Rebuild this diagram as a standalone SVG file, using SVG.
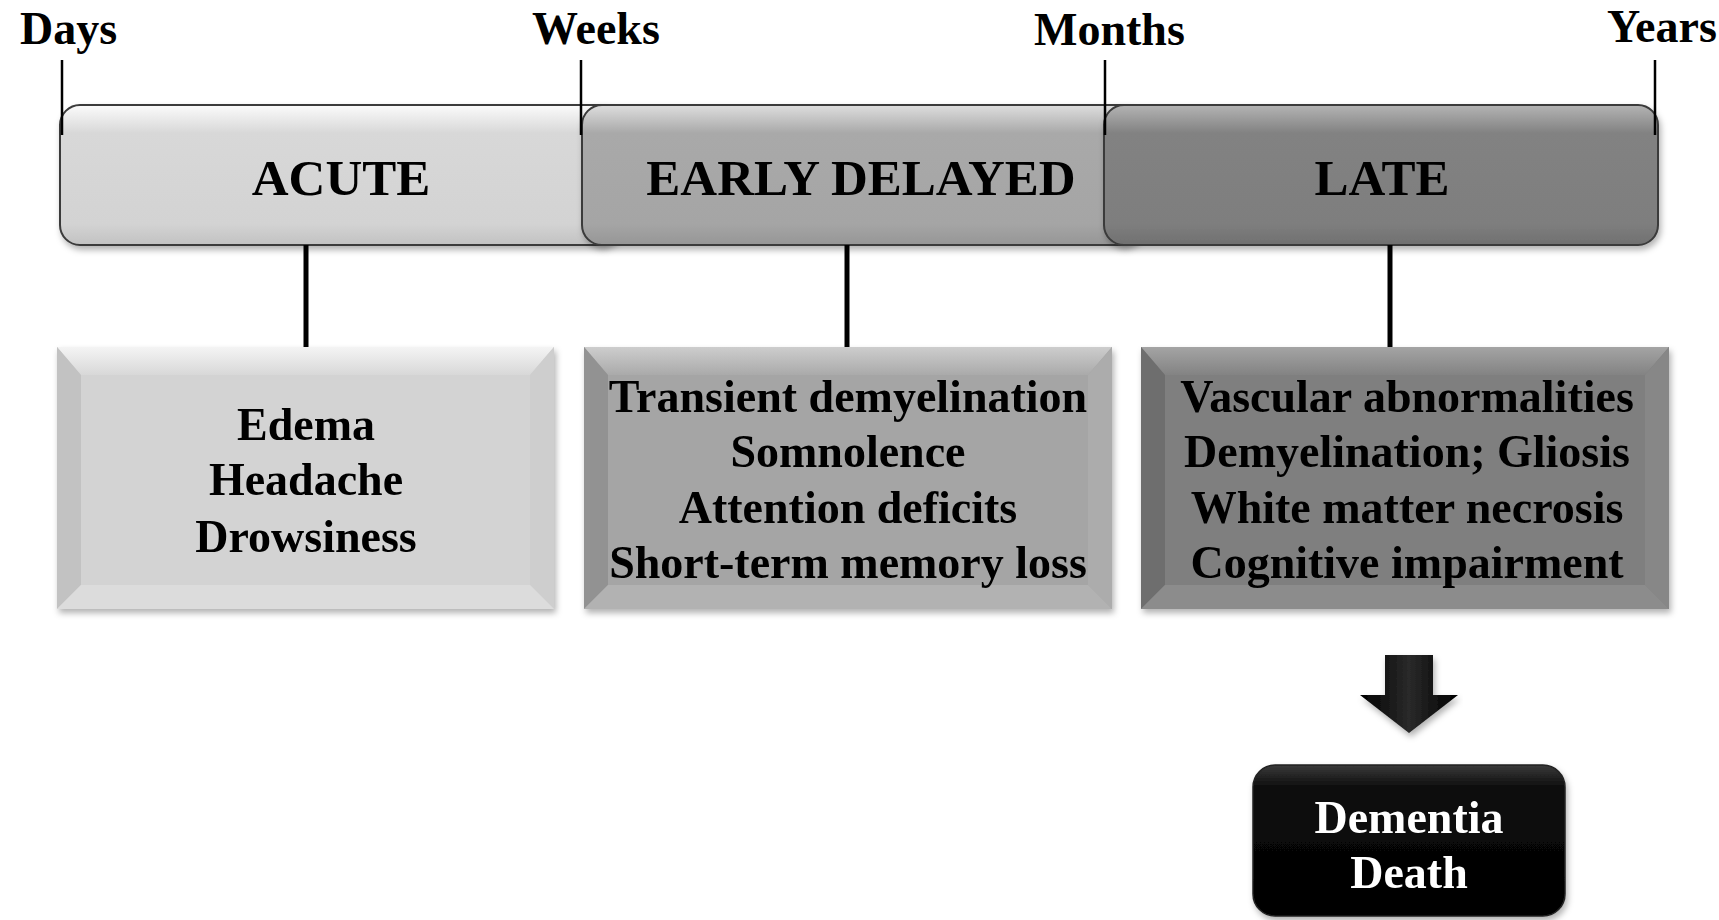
<svg xmlns="http://www.w3.org/2000/svg" width="1719" height="920" viewBox="0 0 1719 920">
  <style>
    .lbl { font-family: "Liberation Serif", "Times New Roman", serif; font-weight: bold; fill: #000; }
    .tick { font-size: 46px; }
    .phase { font-size: 51px; text-anchor: middle; }
    .body { font-size: 46px; text-anchor: middle; }
    .white { fill: #fff; }
    .tk { stroke: #000; stroke-width: 2.5; }
    .conn { stroke: #000; stroke-width: 5; }
    .seg { stroke: #3a3a3a; stroke-width: 2; }
  </style>
  <defs>
    <filter id="sh" x="-5%" y="-10%" width="110%" height="125%">
      <feDropShadow dx="2" dy="4" stdDeviation="3" flood-color="#000" flood-opacity="0.3"/>
    </filter>
    <linearGradient id="gA" x1="0" y1="0" x2="0" y2="1">
      <stop offset="0" stop-color="#fbfbfb"/>
      <stop offset="0.2" stop-color="#d8d8d8"/>
      <stop offset="0.85" stop-color="#d3d3d3"/>
      <stop offset="1" stop-color="#c2c2c2"/>
    </linearGradient>
    <linearGradient id="gB" x1="0" y1="0" x2="0" y2="1">
      <stop offset="0" stop-color="#dedede"/>
      <stop offset="0.2" stop-color="#a9a9a9"/>
      <stop offset="0.85" stop-color="#a5a5a5"/>
      <stop offset="1" stop-color="#969696"/>
    </linearGradient>
    <linearGradient id="gC" x1="0" y1="0" x2="0" y2="1">
      <stop offset="0" stop-color="#b4b4b4"/>
      <stop offset="0.2" stop-color="#828282"/>
      <stop offset="0.85" stop-color="#7e7e7e"/>
      <stop offset="1" stop-color="#707070"/>
    </linearGradient>
    <linearGradient id="gD" x1="0" y1="0" x2="0" y2="1">
      <stop offset="0" stop-color="#3a3a3a"/>
      <stop offset="0.15" stop-color="#0c0c0c"/>
      <stop offset="1" stop-color="#000"/>
    </linearGradient>
    <linearGradient id="gArrow" x1="0" y1="0" x2="1" y2="0">
      <stop offset="0" stop-color="#000"/>
      <stop offset="0.5" stop-color="#2a2a2a"/>
      <stop offset="1" stop-color="#000"/>
    </linearGradient>
    <linearGradient id="tb1" x1="0" y1="0" x2="0" y2="1">
      <stop offset="0" stop-color="#f4f4f4"/>
      <stop offset="1" stop-color="#d8d8d8"/>
    </linearGradient>
    <linearGradient id="tb2" x1="0" y1="0" x2="0" y2="1">
      <stop offset="0" stop-color="#cdcdcd"/>
      <stop offset="1" stop-color="#aaaaaa"/>
    </linearGradient>
    <linearGradient id="tb3" x1="0" y1="0" x2="0" y2="1">
      <stop offset="0" stop-color="#a4a4a4"/>
      <stop offset="1" stop-color="#838383"/>
    </linearGradient>
  </defs>

  <rect width="1719" height="920" fill="#fff"/>

  <!-- Timeline bar -->
  <g id="phase-acute" filter="url(#sh)">
    <rect class="seg" x="60" y="105" width="560" height="140" rx="20" fill="url(#gA)"/>
  </g>
  <g id="phase-early" filter="url(#sh)">
    <rect class="seg" x="582" y="105" width="560" height="140" rx="20" fill="url(#gB)"/>
  </g>
  <g id="phase-late" filter="url(#sh)">
    <rect class="seg" x="1104" y="105" width="554" height="140" rx="20" fill="url(#gC)"/>
  </g>
  <text class="lbl phase" x="341" y="195">ACUTE</text>
  <text class="lbl phase" x="861" y="195">EARLY DELAYED</text>
  <text class="lbl phase" x="1382" y="195">LATE</text>

  <!-- Time ticks -->
  <g id="ticks">
    <line class="tk" x1="62" y1="60" x2="62" y2="135"/>
    <line class="tk" x1="581" y1="60" x2="581" y2="135"/>
    <line class="tk" x1="1105" y1="60" x2="1105" y2="135"/>
    <line class="tk" x1="1655" y1="60" x2="1655" y2="135"/>
    <text class="lbl tick" x="20" y="44">Days</text>
    <text class="lbl tick" x="532" y="44">Weeks</text>
    <text class="lbl tick" x="1034" y="45">Months</text>
    <text class="lbl tick" x="1607" y="42">Years</text>
  </g>

  <!-- Connectors -->
  <g id="connectors">
    <line class="conn" x1="306" y1="245" x2="306" y2="347"/>
    <line class="conn" x1="847" y1="245" x2="847" y2="347"/>
    <line class="conn" x1="1390" y1="245" x2="1390" y2="347"/>
    <polygon points="1385,655 1433,655 1433,695 1458,695 1409,733 1360,695 1385,695" fill="url(#gArrow)" filter="url(#sh)"/>
  </g>

  <!-- Box 1 -->
  <g id="box-acute" filter="url(#sh)">
    <rect x="57" y="347" width="497" height="262" fill="#d3d3d3"/>
    <polygon points="57,347 554,347 530,375 81,375" fill="url(#tb1)"/>
    <polygon points="57,347 81,375 81,585 57,609" fill="#c2c2c2"/>
    <polygon points="554,347 554,609 530,585 530,375" fill="#cecece"/>
    <polygon points="57,609 81,585 530,585 554,609" fill="#dcdcdc"/>
    <text class="lbl body" x="306" y="440">Edema</text>
    <text class="lbl body" x="306" y="495">Headache</text>
    <text class="lbl body" x="306" y="552">Drowsiness</text>
  </g>

  <!-- Box 2 -->
  <g id="box-early" filter="url(#sh)">
    <rect x="584" y="347" width="528" height="262" fill="#a5a5a5"/>
    <polygon points="584,347 1112,347 1088,375 608,375" fill="url(#tb2)"/>
    <polygon points="584,347 608,375 608,585 584,609" fill="#929292"/>
    <polygon points="1112,347 1112,609 1088,585 1088,375" fill="#acacac"/>
    <polygon points="584,609 608,585 1088,585 1112,609" fill="#b2b2b2"/>
    <text class="lbl body" x="848" y="412">Transient demyelination</text>
    <text class="lbl body" x="848" y="467">Somnolence</text>
    <text class="lbl body" x="848" y="523">Attention deficits</text>
    <text class="lbl body" x="848" y="578">Short-term memory loss</text>
  </g>

  <!-- Box 3 -->
  <g id="box-late" filter="url(#sh)">
    <rect x="1141" y="347" width="528" height="262" fill="#7f7f7f"/>
    <polygon points="1141,347 1669,347 1645,375 1165,375" fill="url(#tb3)"/>
    <polygon points="1141,347 1165,375 1165,585 1141,609" fill="#6e6e6e"/>
    <polygon points="1669,347 1669,609 1645,585 1645,375" fill="#878787"/>
    <polygon points="1141,609 1165,585 1645,585 1669,609" fill="#8c8c8c"/>
    <text class="lbl body" x="1407" y="412">Vascular abnormalities</text>
    <text class="lbl body" x="1407" y="467">Demyelination; Gliosis</text>
    <text class="lbl body" x="1407" y="523">White matter necrosis</text>
    <text class="lbl body" x="1407" y="578">Cognitive impairment</text>
  </g>

  <!-- Outcome box -->
  <g id="box-outcome" filter="url(#sh)">
    <rect x="1253" y="765" width="312" height="151" rx="22" fill="url(#gD)" stroke="#222" stroke-width="1.5"/>
    <text class="lbl body white" x="1409" y="833">Dementia</text>
    <text class="lbl body white" x="1409" y="888">Death</text>
  </g>
</svg>
